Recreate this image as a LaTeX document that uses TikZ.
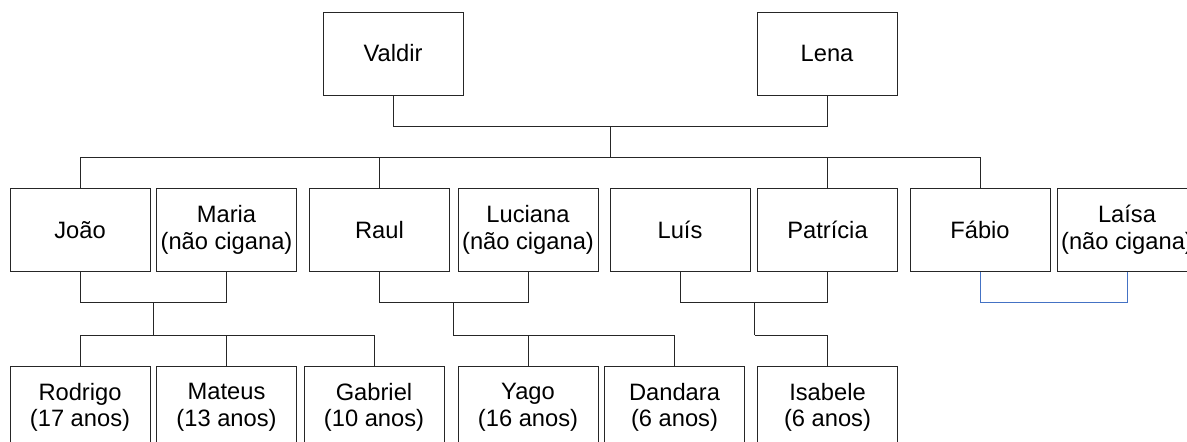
\documentclass[tikz,border=0pt]{standalone}
\usepackage{fontspec}
\setmainfont{Liberation Sans}
\definecolor{azul}{HTML}{4472C4}
\tikzset{
  pessoa/.style={draw=black!85, line width=0.5pt, minimum width=70pt, minimum height=41.5pt,
    inner sep=0pt, align=center, font=\fontsize{11.85}{13.3}\selectfont},
  linha/.style={draw=black!85, line width=0.5pt},
}
\begin{document}
\begin{tikzpicture}[x=0.5pt, y=-0.5pt]
    \useasboundingbox (0,0) rectangle (1187,441);
    \clip (0,0) rectangle (1187,441);

    % avos
    \node[pessoa] (valdir) at (393,53.5) {Valdir};
    \node[pessoa] (lena) at (827,53.5) {Lena};

    % filhos e conjuges
    \node[pessoa] (joao) at (80,230) {João};
    \node[pessoa] (maria) at (226.5,230) {Maria\\(não cigana)};
    \node[pessoa] (raul) at (379.5,230) {Raul};
    \node[pessoa] (luciana) at (528,230) {Luciana\\(não cigana)};
    \node[pessoa] (luis) at (680,230) {Luís};
    \node[pessoa] (patricia) at (827.5,230) {Patrícia};
    \node[pessoa] (fabio) at (980,230) {Fábio};
    \node[pessoa] (laisa) at (1127,230) {Laísa\\(não cigana)};

    % netos
    \node[pessoa] (rodrigo) at (80,407.5) {Rodrigo\\(17 anos)};
    \node[pessoa] (mateus) at (226.5,407.5) {Mateus\\(13 anos)};
    \node[pessoa] (gabriel) at (374,407.5) {Gabriel\\(10 anos)};
    \node[pessoa] (yago) at (528,407.5) {Yago\\(16 anos)};
    \node[pessoa] (dandara) at (674.5,407.5) {Dandara\\(6 anos)};
    \node[pessoa] (isabele) at (827.5,407.5) {Isabele\\(6 anos)};

    \coordinate (casal) at (610,126);
    \coordinate (irmaos) at (610,157.5);
    \coordinate (c1) at (153,302);
    \coordinate (f1) at (153,335);
    \coordinate (c2) at (453,302);
    \coordinate (f2) at (453,335);
    \coordinate (c3) at (754.5,302);
    \coordinate (f3) at (754.5,335);
    \coordinate (c4) at (1054,302);

    \draw[linha] (valdir.south) |- (casal) -| (lena.south);
    \draw[linha] (casal) -- (irmaos);
    \draw[linha] (joao.north) |- (irmaos) -| (fabio.north);
    \foreach \f in {raul,patricia}
      \draw[linha] (\f.north) |- (irmaos);

    \draw[linha] (joao.south) |- (c1) -| (maria.south);
    \draw[linha] (raul.south) |- (c2) -| (luciana.south);
    \draw[linha] (luis.south) |- (c3) -| (patricia.south);
    \draw[draw=azul, line width=0.5pt] (fabio.south) |- (c4) -| (laisa.south);

    \draw[linha] (c1) -- (f1);
    \draw[linha] (c2) -- (f2);
    \draw[linha] (c3) -- (f3);
    \foreach \n in {rodrigo,mateus,gabriel}
      \draw[linha] (f1) -| (\n.north);
    \foreach \n in {yago,dandara}
      \draw[linha] (f2) -| (\n.north);
    \draw[linha] (f3) -| (isabele.north);
  \end{tikzpicture}
\end{document}
